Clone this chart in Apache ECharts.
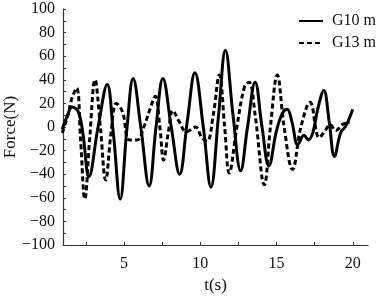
<!DOCTYPE html>
<html>
<head>
  <meta charset="UTF-8">
  <title>Force vs time</title>
  <script src="https://cdn.jsdelivr.net/npm/echarts@6.0.0/dist/echarts.min.js"></script>
  <style>
    html, body { margin: 0; padding: 0; background: #fff; }
    #chart { width: 381px; height: 303px; }
  </style>
</head>
<body>
  <div id="chart"></div>
  <script>
    // values: [t (s), force (N)]
    const g10Data = [
      [0.95, -2], [1.3, 10], [1.6, 17], [2.0, 13], [2.3, -5], [2.7, -42], [3.3, 0], [3.9, 36],
      [4.3, -5], [4.75, -61], [5.2, 0], [5.6, 41], [6.1, 0], [6.65, -50], [7.1, 0], [7.55, 41],
      [8.1, 0], [8.65, -40], [9.15, 5], [9.65, 46], [10.2, 0], [10.7, -51], [11.2, 10], [11.65, 65],
      [12.15, 10], [12.65, -37], [13.1, 0], [13.6, 38], [14.05, 0], [14.5, -33], [15.0, -3],
      [15.4, 12], [15.7, 15], [16.0, 5], [16.4, -15], [16.8, -7], [17.1, -11], [17.4, -4],
      [17.7, 15], [18.1, 31], [18.45, 5], [18.8, -25], [19.2, -5], [19.5, 0], [19.7, 5], [20.0, 15]
    ];
    const g13Data = [
      [0.95, -5], [1.3, 9], [1.6, 25], [1.9, 33], [2.15, -10], [2.43, -61], [2.75, -10], [3.1, 40],
      [3.45, 0], [3.8, -45], [4.15, -5], [4.5, 20], [4.9, 13], [5.35, -11], [5.85, -11], [6.3, 0],
      [6.7, 15], [7.05, 26], [7.35, 0], [7.6, -28], [7.9, -5], [8.2, 14], [8.6, 5], [9.1, -4],
      [9.7, 0], [10.1, -9], [10.45, -12], [10.85, 10], [11.25, 44], [11.6, 0], [11.9, -39],
      [12.4, 0], [12.9, 34], [13.2, 38], [13.6, 10], [14.2, -49], [14.6, 0], [15.05, 44],
      [15.5, 0], [16.05, -36], [16.6, 0], [17.2, 21], [17.8, -9], [18.2, -3], [18.5, 2],
      [18.9, -3], [19.3, 2], [19.8, 4]
    ];
    const xTickValues = [2.5, 5, 7.5, 10, 12.5, 15, 17.5, 20];
    const xLabelValues = [5, 10, 15, 20];
    const seriesNames = ['G10 m', 'G13 m'];

    const chart = echarts.init(document.getElementById('chart'));
    const font = 'Liberation Serif';
    const minus = v => String(v).replace('-', '\u2212');

    chart.setOption({
      animation: false,
      backgroundColor: '#fff',
      grid: { left: 63, right: 13, top: 9, bottom: 58, outerBoundsMode: 'none' },
      legend: {
        right: 0, top: 8, orient: 'vertical', itemGap: 6,
        itemWidth: 24, itemHeight: 10,
        itemStyle: { opacity: 0 },
        textStyle: { fontFamily: font, fontSize: 16, color: '#111', padding: [0, 0, 0, 4] },
        data: seriesNames
      },
      xAxis: {
        type: 'value', min: 1, max: 21,
        name: 't(s)', nameLocation: 'middle', nameGap: 19,
        nameTextStyle: { fontFamily: font, fontSize: 17, color: '#111' },
        axisLine: { onZero: false, lineStyle: { color: '#333', width: 1.2 } },
        axisTick: { inside: true, length: 3, customValues: xTickValues, lineStyle: { color: '#333' } },
        axisLabel: { customValues: xLabelValues, margin: 11, fontFamily: font, fontSize: 16, color: '#111' },
        splitLine: { show: false }
      },
      yAxis: {
        type: 'value', min: -100, max: 100, interval: 20,
        name: 'Force(N)', nameLocation: 'middle', nameGap: 52, nameMoveOverlap: false,
        nameTextStyle: { fontFamily: font, fontSize: 17, color: '#111', verticalAlign: 'middle', align: 'center' },
        axisLine: { show: true, onZero: false, lineStyle: { color: '#333', width: 1.2 } },
        axisTick: { inside: true, length: 3, lineStyle: { color: '#333' } },
        minorTick: { show: true, splitNumber: 2, length: 3, lineStyle: { color: '#333' } },
        axisLabel: { margin: 8, fontFamily: font, fontSize: 16, color: '#111', formatter: minus },
        splitLine: { show: false }
      },
      series: [
        {
          name: seriesNames[0], type: 'line', data: g10Data, smooth: 0.4, symbol: 'none',
          lineStyle: { color: '#000', width: 3 }
        },
        {
          name: seriesNames[1], type: 'line', data: g13Data, smooth: 0.4, symbol: 'none',
          lineStyle: { color: '#000', width: 3, type: [5, 3] }
        }
      ]
    });
  </script>
</body>
</html>
